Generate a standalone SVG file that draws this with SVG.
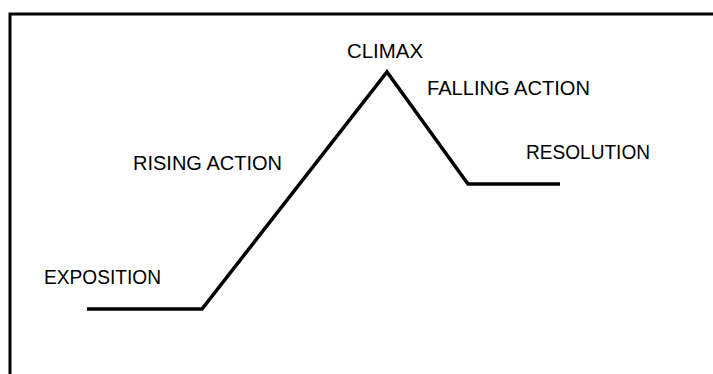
<svg xmlns="http://www.w3.org/2000/svg" width="713" height="374" viewBox="0 0 713 374">
<style>
.lbl{font-family:"Liberation Sans",Arial,sans-serif;font-size:20px;fill:#000}
.ln{fill:none;stroke:#000;stroke-width:3.5;stroke-linejoin:miter;stroke-linecap:butt}
</style>
<rect x="0" y="0" width="713" height="374" fill="#fff"/>
<g id="frame"><rect x="10" y="14" width="720" height="380" fill="none" stroke="#000" stroke-width="3"/></g>
<g id="connectors"><polyline class="ln" points="87,309 202,309 387,72 468,184 560,184"/></g>
<g id="exposition"><text class="lbl" x="44" y="284" textLength="117" lengthAdjust="spacingAndGlyphs">EXPOSITION</text></g>
<g id="rising"><text class="lbl" x="133" y="170" textLength="149" lengthAdjust="spacingAndGlyphs">RISING ACTION</text></g>
<g id="climax"><text class="lbl" x="347" y="58" textLength="76" lengthAdjust="spacingAndGlyphs">CLIMAX</text></g>
<g id="falling"><text class="lbl" x="427" y="95" textLength="163" lengthAdjust="spacingAndGlyphs">FALLING ACTION</text></g>
<g id="resolution"><text class="lbl" x="526" y="159" textLength="124" lengthAdjust="spacingAndGlyphs">RESOLUTION</text></g>
</svg>
